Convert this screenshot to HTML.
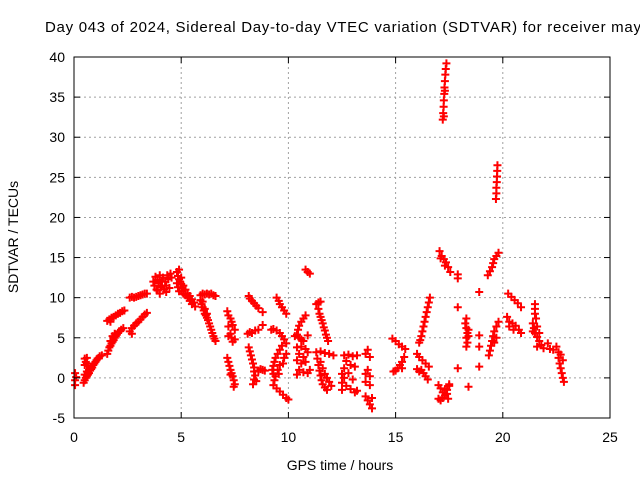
<!DOCTYPE html>
<html><head><meta charset="utf-8"><style>
body{margin:0;background:#fff}
svg{display:block;font-family:"Liberation Sans",sans-serif}
</style></head><body>
<svg id="chart" width="640" height="480">
<text x="45" y="32" font-size="15" textLength="605" lengthAdjust="spacing">Day 043 of 2024, Sidereal Day-to-day VTEC variation (SDTVAR) for receiver mayg</text>
<g id="grid"></g><g id="marks"></g><g id="axes"></g>
<text x="340" y="470" font-size="14" text-anchor="middle">GPS time / hours</text>
<text transform="translate(18,237) rotate(-90)" font-size="14" text-anchor="middle">SDTVAR / TECUs</text>
</svg>
<script>
const xTicks=[0,5,10,15,20,25];
const yTicks=[-5,0,5,10,15,20,25,30,35,40];
const hours=[0.05,0.05,0.05,0.1,0.45,0.5,0.55,0.6,0.65,0.7,0.75,0.8,0.85,0.9,0.95,1.0,1.05,1.1,1.15,1.2,1.3,0.5,0.6,0.7,0.5,0.55,0.6,0.65,0.5,0.6,
1.55,1.6,1.65,1.7,1.75,1.8,1.85,1.9,1.95,2.0,2.05,2.1,2.2,2.3,1.7,1.8,1.9,
1.55,1.65,1.75,1.85,1.95,2.05,2.15,2.25,2.35,1.7,
2.6,2.7,2.8,2.9,3.0,3.1,3.2,3.3,3.4,
2.6,2.7,2.8,2.9,3.0,3.1,3.2,3.3,3.4,2.7,
3.7,3.75,3.8,3.85,3.9,3.95,4.0,4.05,4.1,4.15,4.2,4.25,4.3,4.35,4.4,4.45,4.5,4.55,3.9,4.1,4.3,4.0,
4.8,4.85,4.9,4.95,4.8,4.85,4.9,5.0,5.0,5.05,5.1,5.1,5.2,5.2,5.3,5.3,5.4,5.4,5.5,5.5,5.6,5.65,4.9,5.0,
5.9,6.0,6.1,6.2,6.3,6.4,6.5,6.6,
5.9,5.95,6.0,6.05,6.1,6.15,6.2,6.25,6.3,6.35,6.4,6.45,6.5,6.55,6.6,6.0,6.1,6.2,
7.15,7.2,7.3,7.35,7.4,7.5,7.2,7.3,7.35,7.4,7.5,7.2,
7.15,7.2,7.25,7.3,7.35,7.4,7.45,7.5,7.45,7.3,
8.15,8.2,8.3,8.4,8.5,8.6,8.8,8.8,
8.1,8.2,8.3,8.45,8.6,
8.15,8.2,8.25,8.3,8.35,8.4,8.4,8.45,8.4,8.35,8.5,8.6,8.7,8.8,8.9,
9.45,9.55,9.6,9.7,9.8,9.9,
9.2,9.3,9.45,9.6,9.7,9.8,9.9,9.7,9.6,9.5,9.4,9.35,9.3,9.25,9.3,9.4,9.5,9.6,9.8,9.9,9.75,9.55,9.35,
9.3,9.45,9.6,9.75,9.9,10.0,
10.8,10.9,11.0,
10.8,10.7,10.6,10.5,10.45,10.4,10.5,10.6,10.7,10.3,10.9,
10.4,10.6,10.8,10.5,10.7,10.9,10.4,10.6,10.8,10.5,10.7,10.9,10.4,11.0,
11.3,11.4,11.5,11.4,11.45,11.5,11.55,11.6,11.65,11.7,11.75,11.8,11.85,
11.3,11.5,11.7,11.9,12.1,11.35,11.4,11.45,11.5,11.55,11.6,11.7,11.8,11.7,11.8,11.9,12.0,11.6,11.5,
12.6,12.8,13.0,13.2,12.7,12.9,13.1,12.6,12.5,12.6,12.5,12.7,12.9,13.1,13.2,12.5,13.0,12.8,
13.7,13.6,13.8,13.7,13.6,13.8,13.6,13.8,13.6,13.7,13.8,13.9,13.9,
14.85,15.0,15.15,15.3,15.45,
15.4,15.3,15.2,15.1,15.0,14.9,15.3,
16.6,16.55,16.5,16.45,16.4,16.35,16.3,16.25,16.2,16.15,16.1,
16.0,16.1,16.25,16.4,16.55,
16.1,16.2,16.3,16.4,16.5,16.0,
17.0,17.1,17.2,17.3,17.45,17.5,17.4,17.2,17.1,17.3,17.4,17.5,17.0,
17.05,17.15,17.25,17.35,17.45,17.55,17.1,17.3,
17.9,17.9,17.9,17.9,18.4,18.9,18.9,18.9,18.9,
18.3,18.25,18.3,18.35,18.3,18.35,18.3,18.4,18.4,
19.3,19.4,19.5,19.55,19.6,19.7,19.8,
19.8,19.7,19.6,19.55,19.5,19.45,19.4,19.35,19.6,19.7,
20.25,20.4,20.55,20.7,20.85,
20.2,20.3,20.45,20.6,20.75,20.85,20.3,20.5,
21.5,21.5,21.5,21.55,21.4,21.45,21.5,21.6,21.7,21.8,21.9,21.6,21.7,21.4,21.6,
22.1,22.2,22.35,
22.5,22.6,22.6,22.65,22.7,22.75,22.8,22.85,22.7,22.8,
17.2,17.22,17.24,17.25,17.27,17.28,17.3,17.32,17.34,17.37,17.25,17.3,
19.68,19.7,19.7,19.72,19.73,19.74,19.75];
const sdtvar=[0.6,-0.3,-0.9,0.1,-0.6,-0.3,0,0.2,0.4,0.6,0.9,1.1,1.3,1.6,1.8,2.0,2.2,2.4,2.5,2.7,2.8,0.4,0.8,1.0,2.4,2.0,1.8,1.5,1.6,2.5,
3.0,3.4,3.8,4.0,4.3,4.5,4.7,5.0,5.2,5.4,5.6,5.8,6.0,6.2,4.6,5.2,5.5,
7.1,7.3,7.5,7.6,7.8,8.0,8.1,8.3,8.4,7.0,
10.0,10.1,10.0,10.1,10.2,10.3,10.4,10.5,10.5,
5.8,6.2,6.5,6.8,7.0,7.3,7.6,7.9,8.1,5.5,
12.0,11.5,12.6,11.0,12.2,11.8,12.8,11.3,12.0,12.5,11.0,12.0,11.5,12.8,12.3,11.2,13.0,12.5,10.9,11.5,10.7,10.5,
13.2,12.7,12.3,12.0,11.8,11.3,10.8,11.7,10.8,11.2,11.5,10.5,11.0,10.3,10.5,10.0,10.2,9.6,9.8,9.2,9.4,8.9,13.5,12.5,
10.3,10.5,10.4,10.5,10.4,10.5,10.3,10.2,
9.7,9.2,8.8,8.4,8.0,7.8,7.5,7.2,6.8,6.4,6.0,5.6,5.2,4.9,4.6,9.5,8.6,8.0,
8.3,7.8,7.4,7.0,6.6,6.0,6.4,5.5,5.0,4.5,4.8,5.2,
2.5,2.0,1.5,1.0,0.6,0.2,-0.3,-0.8,-1.1,0.4,
10.2,9.9,9.6,9.3,9.0,8.7,8.2,6.6,
5.5,5.7,5.6,5.9,6.0,
3.8,3.3,2.8,2.3,1.8,1.3,0.8,0.3,-0.2,-0.8,-0.4,0.9,1.1,1.0,0.9,
10.0,9.6,9.2,8.8,8.4,8.0,
6.0,6.1,5.9,5.6,5.2,4.8,4.3,4.0,3.5,3.0,2.5,2.0,1.5,1.0,0.5,0.2,1.0,1.6,2.5,3.0,1.8,0.5,-0.3,
-0.9,-1.3,-1.7,-2.1,-2.5,-2.7,
13.5,13.2,13.0,
7.8,7.4,7.0,6.5,6.0,5.4,5.0,4.8,4.6,5.2,5.3,
3.8,3.9,3.6,3.0,2.6,3.2,2.2,1.8,2.0,1.0,0.7,0.6,0.4,1.0,
9.2,9.4,9.5,8.6,8.0,7.6,7.2,6.8,6.3,5.9,5.4,5.0,4.6,
3.2,3.3,3.1,3.0,2.8,2.4,1.6,0.9,0.3,-0.3,-0.8,-1.2,-1.5,0.5,0.0,-0.5,-1.0,1.2,2.0,
2.8,2.9,2.7,2.8,2.1,1.6,1.4,1.2,0.5,0.0,-0.6,-1.0,-1.4,-1.8,-1.6,-1.5,-0.2,0.6,
3.5,3.0,2.6,1.0,0.5,0.2,-0.5,-0.9,-2.3,-2.8,-3.3,-3.8,-2.5,
4.9,4.6,4.2,3.9,3.6,
2.6,2.0,1.6,1.2,0.9,0.8,1.2,
10.0,9.4,8.8,8.2,7.6,7.0,6.4,5.8,5.2,4.7,4.4,
3.0,2.6,2.2,1.8,1.4,
0.8,1.0,0.6,0.2,-0.2,1.1,
-0.9,-1.3,-1.8,-2.2,-2.6,-1.0,-1.5,-2.5,-2.8,-1.4,-2.0,-0.8,-2.6,
15.8,15.2,14.8,14.4,13.8,13.2,14.9,14.0,
12.9,12.4,8.8,1.2,-1.1,10.7,5.3,3.9,1.4,
7.4,6.8,6.2,5.6,5.0,4.4,3.9,6.0,5.2,
12.8,13.3,13.8,14.3,14.8,15.2,15.6,
7.0,6.4,5.8,5.2,4.6,4.0,3.4,2.8,4.4,5.0,
10.5,10.1,9.7,9.3,8.8,
7.6,7.0,6.8,6.5,6.0,5.6,6.4,6.0,
9.2,8.6,8.0,7.4,6.8,6.2,5.6,5.1,4.6,4.1,3.7,6.4,5.6,5.8,3.9,
4.3,3.6,3.5,
3.9,3.2,2.5,1.8,1.2,0.6,0.0,-0.5,2.9,2.2,
32.2,33.0,33.8,34.6,35.4,36.2,37.0,37.8,38.5,39.2,32.6,35.8,
22.3,23.0,23.7,24.4,25.1,25.8,26.5];

const L=74,R=610,T=57,B=418,xMin=0,xMax=25,yMin=-5,yMax=40;
const NS='http://www.w3.org/2000/svg';
function sx(v){return L+(v-xMin)/(xMax-xMin)*(R-L);}
function sy(v){return B-(v-yMin)/(yMax-yMin)*(B-T);}
function mk(tag,attrs,parent){const e=document.createElementNS(NS,tag);for(const k in attrs)e.setAttribute(k,attrs[k]);parent.appendChild(e);return e;}
const grid=document.getElementById('grid'),axes=document.getElementById('axes'),marks=document.getElementById('marks');
xTicks.forEach(t=>{
  const x=sx(t);
  if(t>xMin&&t<xMax){const g=mk('line',{x1:x,x2:x,y1:T,y2:B,stroke:'#a0a0a0','stroke-dasharray':'2,3','stroke-width':1},grid);
  
  }
  mk('line',{x1:x,x2:x,y1:B,y2:B-6,stroke:'#000'},axes);
  mk('line',{x1:x,x2:x,y1:T,y2:T+6,stroke:'#000'},axes);
  const tx=mk('text',{x:x,y:B+24,'font-size':14,'text-anchor':'middle'},axes);
  tx.textContent=t;
  
  
});
yTicks.forEach(t=>{
  const y=sy(t);
  if(t>yMin&&t<yMax){const g=mk('line',{x1:L,x2:R,y1:y,y2:y,stroke:'#a0a0a0','stroke-dasharray':'2,3','stroke-width':1},grid);
  
  }
  mk('line',{x1:L,x2:L+6,y1:y,y2:y,stroke:'#000'},axes);
  mk('line',{x1:R,x2:R-6,y1:y,y2:y,stroke:'#000'},axes);
  const tx=mk('text',{x:L-9,y:y+5,'font-size':14,'text-anchor':'end'},axes);
  tx.textContent=t;
  
  
});
const frame=mk('rect',{x:L,y:T,width:R-L,height:B-T,fill:'none',stroke:'#000','stroke-width':1},axes);


hours.forEach((h,i)=>{
  const x=sx(h),y=sy(sdtvar[i]);
  const p=mk('path',{d:`M${x-4},${y}h8M${x},${y-4}v8`,stroke:'#ff0000','stroke-width':2,fill:'none'},marks);
  
  
});
</script>
</body></html>
